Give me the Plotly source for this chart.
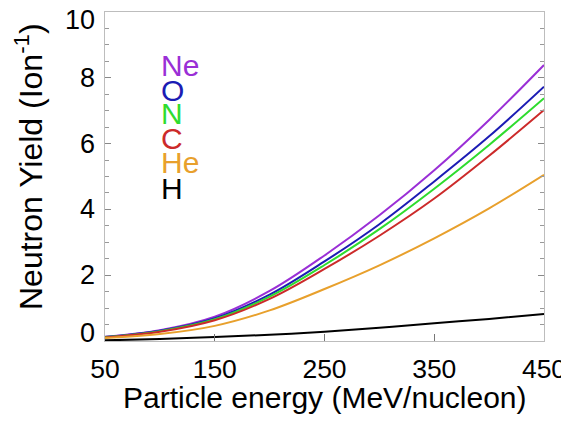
import plotly.graph_objects as go

energy = [50, 100, 150, 200, 250, 300, 350, 400, 450]
yield_ne = [0.13, 0.33, 0.74, 1.52, 2.60, 3.82, 5.19, 6.72, 8.39]
yield_o = [0.12, 0.31, 0.69, 1.41, 2.42, 3.55, 4.85, 6.22, 7.73]
yield_n = [0.12, 0.30, 0.66, 1.35, 2.31, 3.40, 4.63, 5.96, 7.38]
yield_c = [0.11, 0.28, 0.63, 1.28, 2.19, 3.20, 4.33, 5.63, 7.02]
yield_he = [0.09, 0.21, 0.46, 0.93, 1.58, 2.30, 3.12, 4.03, 5.05]
yield_h = [0.02, 0.06, 0.12, 0.19, 0.28, 0.40, 0.54, 0.67, 0.82]

series_names = ["Ne", "O", "N", "C", "He", "H"]
series_values = [yield_ne, yield_o, yield_n, yield_c, yield_he, yield_h]
series_colors = ["#9a2fd6", "#1c1cb4", "#2edc2e", "#cc2a2a", "#e8a02c", "#000000"]
label_y = [8.36, 7.60, 6.90, 6.17, 5.44, 4.65]

x_ticks = [50, 150, 250, 350, 450]
y_ticks = [0, 2, 4, 6, 8, 10]

FONT = "Liberation Sans, Arial, Helvetica, sans-serif"

fig = go.Figure()
for name, vals, col in zip(series_names, series_values, series_colors):
    fig.add_trace(go.Scatter(x=energy, y=vals, mode="lines", name=name,
                             line=dict(color=col, width=2, shape="spline"),
                             showlegend=False))

for name, ly, col in zip(series_names, label_y, series_colors):
    fig.add_annotation(x=99.5, y=ly, xref="x", yref="y", text=name,
                       showarrow=False, xanchor="left", yanchor="middle",
                       font=dict(family=FONT, size=30, color=col))

# y tick labels (end labels nudged inward as in the reference)
for v in y_ticks:
    shift = -8 if v == max(y_ticks) else (8 if v == min(y_ticks) else 0)
    fig.add_annotation(x=0, y=v, xref="paper", yref="y", xshift=-8, yshift=shift,
                       text=str(v), showarrow=False, xanchor="right", yanchor="middle",
                       font=dict(family=FONT, size=27, color="black"))

# axis titles
fig.add_annotation(x=0.5, y=0, xref="paper", yref="paper", yshift=-56,
                   text="Particle energy (MeV/nucleon)", showarrow=False,
                   xanchor="center", yanchor="middle",
                   font=dict(family=FONT, size=30, color="black"))
fig.add_annotation(x=0, y=(341 - 167) / 329, xref="paper", yref="paper", xshift=-76,
                   text="Neutron Yield (Ion<sup>-1</sup>)", showarrow=False,
                   textangle=-90, xanchor="center", yanchor="middle",
                   font=dict(family=FONT, size=32, color="black"))

# the page body has an 8px default margin, so margins are offset by 8px
fig.update_layout(
    width=569, height=422,
    margin=dict(l=97, r=33, t=4, b=89),
    paper_bgcolor="white", plot_bgcolor="white",
    font=dict(family=FONT, color="black"),
    xaxis=dict(range=[50, 450], tickvals=x_ticks, ticktext=[str(v) for v in x_ticks],
               automargin=False, ticklabeloverflow="allow",
               showgrid=False, zeroline=False, showline=True, mirror=True,
               linecolor="#bdbdbd", linewidth=1, ticks="inside", ticklen=7,
               tickcolor="#777777", tickfont=dict(size=26.5, family=FONT),
               ticklabelstandoff=4),
    yaxis=dict(range=[0, 10], tickvals=y_ticks, showticklabels=False,
               automargin=False,
               showgrid=False, zeroline=False, showline=True, mirror="ticks",
               linecolor="#bdbdbd", linewidth=1, ticks="inside", ticklen=6,
               tickcolor="#888888",
               minor=dict(dtick=0.5, ticks="inside", ticklen=4, tickcolor="#999999")),
)

fig.write_html("out.html")
